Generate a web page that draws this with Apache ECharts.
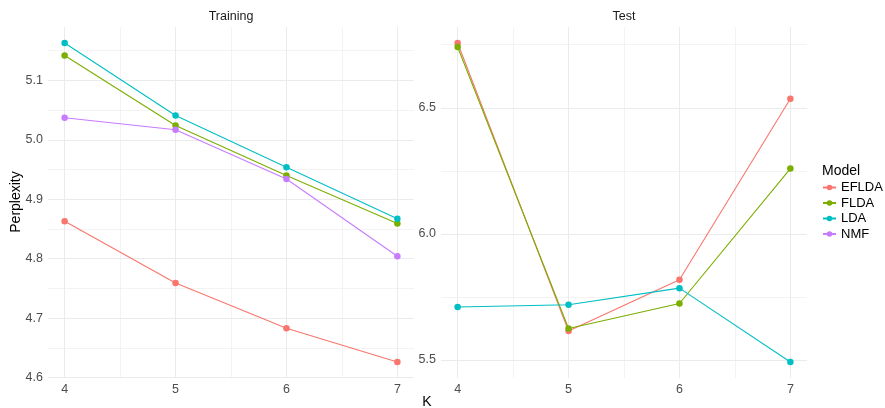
<!DOCTYPE html>
<html><head><meta charset="utf-8">
<script src="https://cdn.jsdelivr.net/npm/echarts@6/dist/echarts.min.js"></script>
<style>html,body{margin:0;padding:0;background:#fff}#c{width:885px;height:408px}</style>
</head><body><div id="c"></div>
<script>
const ks = [4, 5, 6, 7];
const models = ['EFLDA', 'FLDA', 'LDA', 'NMF'];
const colors = ['#F8766D', '#7CAE00', '#00BFC4', '#C77CFF'];
const trainEFLDA = [4.863, 4.759, 4.683, 4.626];
const trainFLDA  = [5.142, 5.024, 4.940, 4.859];
const trainLDA   = [5.163, 5.041, 4.954, 4.867];
const trainNMF   = [5.037, 5.017, 4.934, 4.804];
const testEFLDA  = [6.757, 5.615, 5.818, 6.536];
const testFLDA   = [6.741, 5.625, 5.724, 6.259];
const testLDA    = [5.710, 5.719, 5.785, 5.492];
const xTicks = [4, 5, 6, 7];
const xMinor = [4.5, 5.5, 6.5];
const trainYTicks = [4.6, 4.7, 4.8, 4.9, 5.0, 5.1];
const trainYMinor = [4.65, 4.75, 4.85, 4.95, 5.05, 5.15];
const testYTicks = [5.5, 6.0, 6.5];
const testYMinor = [5.75, 6.25, 6.75];
const panelTitles = ['Training', 'Test'];

function ext(arrs) {
  const all = [].concat(...arrs);
  const lo = Math.min(...all), hi = Math.max(...all), r = hi - lo;
  return [lo - 0.05 * r, hi + 0.05 * r];
}
const xr = ext([ks]);
const trY = ext([trainEFLDA, trainFLDA, trainLDA, trainNMF]);
const teY = ext([testEFLDA, testFLDA, testLDA]);

const FONT = '"Liberation Sans", Arial, sans-serif';
const GRID = '#EBEBEB';

function xAx(gi, major) {
  return {
    type: 'value', gridIndex: gi, min: xr[0], max: xr[1],
    axisLine: {show: false},
    axisTick: {show: false, customValues: major ? xTicks : xMinor},
    axisLabel: major ? {show: true, customValues: xTicks, color: '#4D4D4D', fontSize: 12.5, fontFamily: FONT, margin: 5} : {show: false},
    splitLine: {show: true, lineStyle: {color: GRID, width: major ? 1 : 0.6}}
  };
}
function yAx(gi, r, major, minor) {
  return [{
    type: 'value', gridIndex: gi, min: r[0], max: r[1],
    axisLine: {show: false},
    axisTick: {show: false, customValues: major},
    axisLabel: {show: true, customValues: major, color: '#4D4D4D', fontSize: 12.5, fontFamily: FONT, margin: 5,
      formatter: v => Number(v).toFixed(1)},
    splitLine: {show: true, lineStyle: {color: GRID, width: 1}}
  }, {
    type: 'value', gridIndex: gi, min: r[0], max: r[1],
    axisLine: {show: false},
    axisTick: {show: false, customValues: minor},
    axisLabel: {show: false},
    splitLine: {show: true, lineStyle: {color: GRID, width: 0.6}}
  }];
}

function ser(name, vals, xi, yi) {
  const ci = models.indexOf(name);
  return {
    name, type: 'line', xAxisIndex: xi, yAxisIndex: yi,
    data: ks.map((k, i) => [k, vals[i]]),
    symbol: 'circle', symbolSize: 6.5, showSymbol: true,
    itemStyle: {color: colors[ci]},
    lineStyle: {color: colors[ci], width: 1.1},
    emphasis: {disabled: true}, z: 2 + ci
  };
}

const option = {
  animation: false,
  textStyle: {fontFamily: FONT},
  grid: [
    {left: 48, top: 27, width: 366, height: 351},
    {left: 441, top: 27, width: 366, height: 351}
  ],
  xAxis: [xAx(0, true), xAx(0, false), xAx(1, true), xAx(1, false)],
  yAxis: [...yAx(0, trY, trainYTicks, trainYMinor), ...yAx(1, teY, testYTicks, testYMinor)],
  legend: {
    orient: 'vertical', left: 817, top: 176, itemWidth: 13, itemHeight: 7, itemGap: 2.5,
    data: models, textStyle: {fontSize: 13, color: '#000', fontFamily: FONT}, selectedMode: false
  },
  series: [
    ser('EFLDA', trainEFLDA, 0, 0), ser('FLDA', trainFLDA, 0, 0), ser('LDA', trainLDA, 0, 0), ser('NMF', trainNMF, 0, 0),
    ser('EFLDA', testEFLDA, 2, 2), ser('FLDA', testFLDA, 2, 2), ser('LDA', testLDA, 2, 2)
  ],
  graphic: [
    {type: 'text', x: 231, y: 17, style: {text: panelTitles[0], fill: '#1A1A1A', font: '12.5px ' + FONT, textAlign: 'center', textVerticalAlign: 'middle'}},
    {type: 'text', x: 624, y: 17, style: {text: panelTitles[1], fill: '#1A1A1A', font: '12.5px ' + FONT, textAlign: 'center', textVerticalAlign: 'middle'}},
    {type: 'text', x: 427, y: 402, style: {text: 'K', fill: '#000', font: '14px ' + FONT, textAlign: 'center', textVerticalAlign: 'middle'}},
    {type: 'text', x: 16, y: 202, rotation: Math.PI / 2, style: {text: 'Perplexity', fill: '#000', font: '14px ' + FONT, textAlign: 'center', textVerticalAlign: 'middle'}},
    {type: 'text', x: 822, y: 171, style: {text: 'Model', fill: '#000', font: '14px ' + FONT, textAlign: 'left', textVerticalAlign: 'middle'}}
  ]
};
echarts.init(document.getElementById('c')).setOption(option);
</script></body></html>
